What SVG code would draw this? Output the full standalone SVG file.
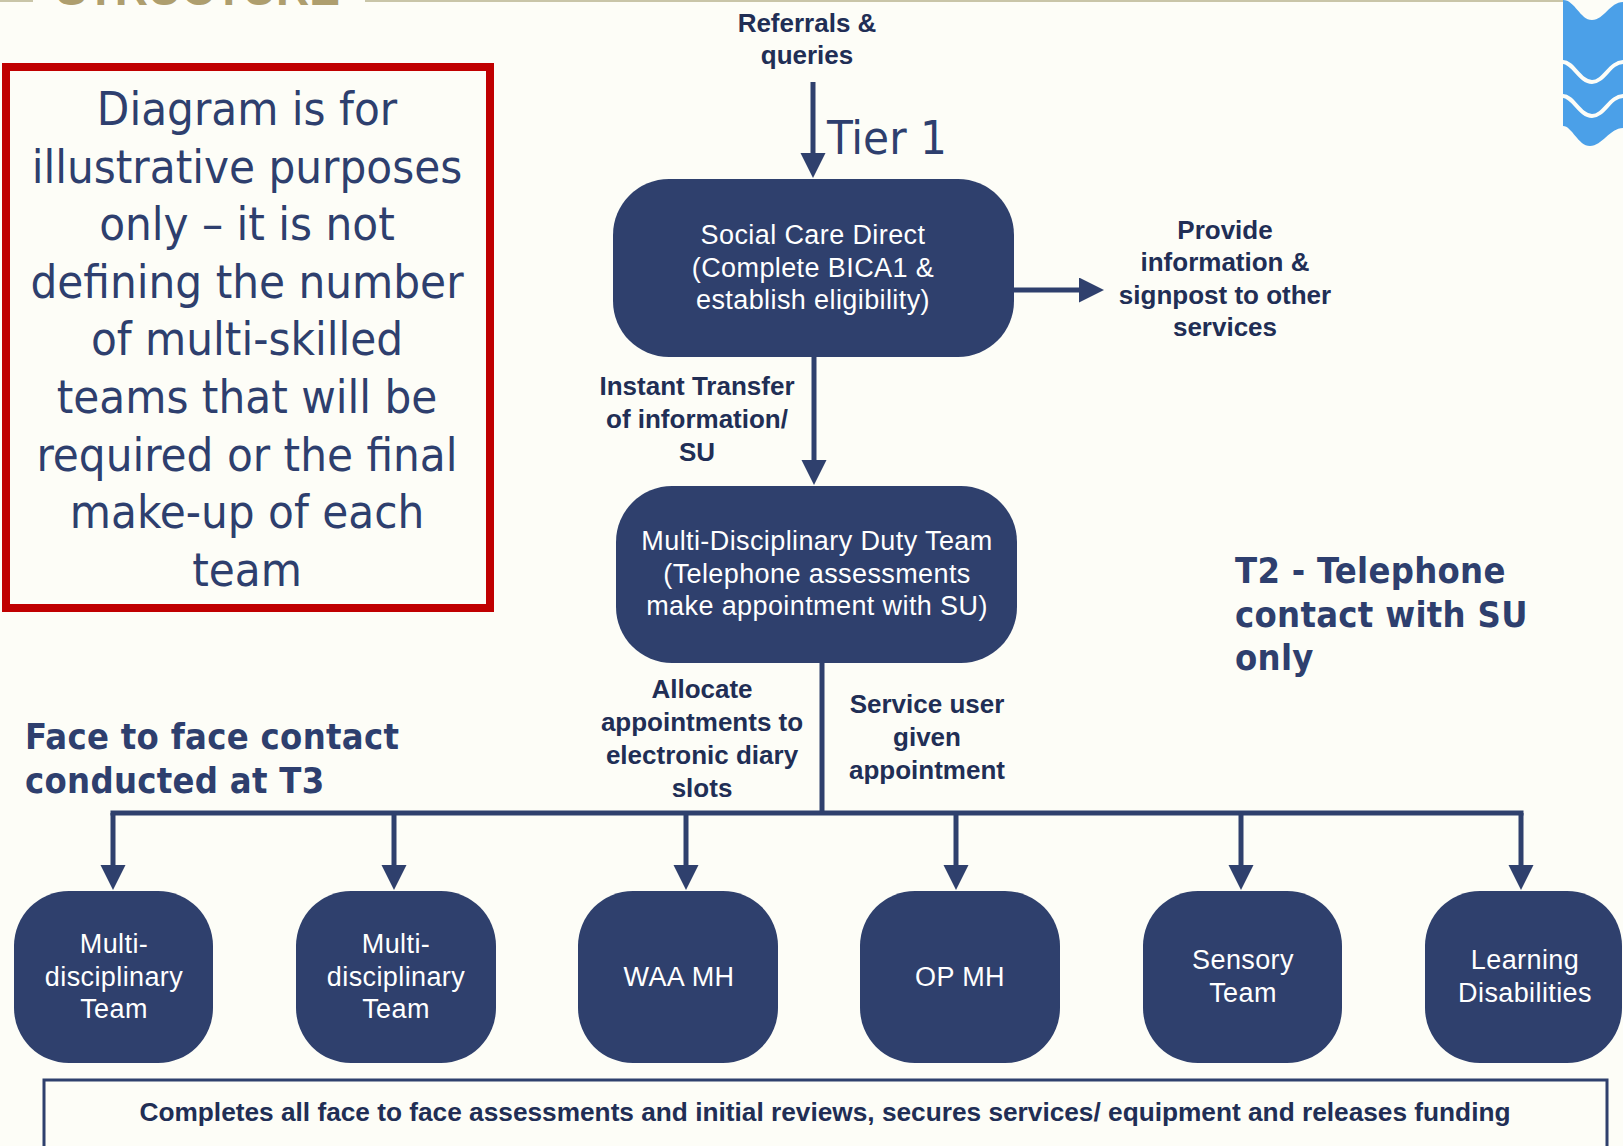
<svg xmlns="http://www.w3.org/2000/svg" width="1623" height="1146" viewBox="0 0 1623 1146">
<style>
.bg{fill:#FDFDF7}
.node{fill:#2F406D}
.nt{font-family:"Liberation Sans",Arial,sans-serif;font-size:27px;fill:#FFFFFF;text-anchor:middle;letter-spacing:0.4px}
.lbl{font-family:"Liberation Sans",Arial,sans-serif;font-size:26px;font-weight:bold;fill:#212E55;text-anchor:middle}
.big{font-family:"DejaVu Sans Condensed","DejaVu Sans",sans-serif;font-size:47px;fill:#2E3F6E;text-anchor:middle}
.hd{font-family:"DejaVu Sans Condensed","DejaVu Sans",sans-serif;font-size:36px;font-weight:bold;fill:#2E3F6E;letter-spacing:0.3px}
.con{stroke:#2F406D;stroke-width:5;fill:none}
</style>
<defs>
<marker id="arr" markerUnits="userSpaceOnUse" markerWidth="30" markerHeight="30" refX="2" refY="12.5" orient="auto">
<path d="M0,0 L25,12.5 L0,25 Z" fill="#2F406D"/>
</marker>
</defs>
<rect class="bg" x="0" y="0" width="1623" height="1146"/>
<!-- top rule and cut-off title -->
<line x1="0" y1="1" x2="33" y2="1" stroke="#C9C5A8" stroke-width="2"/>
<line x1="365" y1="1" x2="1563" y2="1" stroke="#C9C5A8" stroke-width="2"/>
<text x="56" y="5" font-family="Liberation Sans,Arial,sans-serif" font-weight="bold" font-size="46" fill="#AE9E6E" textLength="284">STRUCTURE</text>
<!-- logo -->
<g id="logo">
<path d="M1563,0 C1575,0 1580,20 1592,20 C1604,20 1610,2 1623,2 L1623,128 C1610,128 1602,146 1590,146 C1578,146 1572,126 1563,126 Z" fill="#4BA0E8"/>
<path d="M1563,62 C1573,62 1580,82 1592,82 C1604,82 1610,62 1623,62" stroke="#FDFDF7" stroke-width="4" fill="none"/>
<path d="M1563,96 C1573,96 1580,116 1592,116 C1604,116 1610,96 1623,96" stroke="#FDFDF7" stroke-width="4" fill="none"/>
</g>
<!-- disclaimer box -->
<g id="disclaimer">
<rect x="6" y="67" width="484" height="541" fill="none" stroke="#C00000" stroke-width="8"/>
<text class="big" x="247" y="125">Diagram is for</text>
<text class="big" x="247" y="182.6">illustrative purposes</text>
<text class="big" x="247" y="240.2">only – it is not</text>
<text class="big" x="247" y="297.8">defining the number</text>
<text class="big" x="247" y="355.4">of multi-skilled</text>
<text class="big" x="247" y="413">teams that will be</text>
<text class="big" x="247" y="470.6">required or the final</text>
<text class="big" x="247" y="528.2">make-up of each</text>
<text class="big" x="247" y="585.8">team</text>
</g>
<!-- connectors -->
<g id="connectors">
<line class="con" x1="813" y1="82" x2="813" y2="155" marker-end="url(#arr)"/>
<line class="con" x1="1014" y1="290" x2="1081" y2="290" marker-end="url(#arr)"/>
<line class="con" x1="814" y1="357" x2="814" y2="462" marker-end="url(#arr)"/>
<line class="con" x1="822" y1="663" x2="822" y2="813"/>
<line class="con" x1="110.5" y1="813" x2="1523.5" y2="813"/>
<line class="con" x1="113" y1="813" x2="113" y2="867" marker-end="url(#arr)"/>
<line class="con" x1="394" y1="813" x2="394" y2="867" marker-end="url(#arr)"/>
<line class="con" x1="686" y1="813" x2="686" y2="867" marker-end="url(#arr)"/>
<line class="con" x1="956" y1="813" x2="956" y2="867" marker-end="url(#arr)"/>
<line class="con" x1="1241" y1="813" x2="1241" y2="867" marker-end="url(#arr)"/>
<line class="con" x1="1521" y1="813" x2="1521" y2="867" marker-end="url(#arr)"/>
</g>
<!-- labels -->
<g id="labels">
<text class="lbl" x="807" y="32">Referrals &amp;</text>
<text class="lbl" x="807" y="64">queries</text>
<text x="827" y="154" font-family="DejaVu Sans Condensed,DejaVu Sans,sans-serif" font-size="47" fill="#2E3F6E">Tier 1</text>
<text class="lbl" x="1225" y="239">Provide</text>
<text class="lbl" x="1225" y="271">information &amp;</text>
<text class="lbl" x="1225" y="304">signpost to other</text>
<text class="lbl" x="1225" y="336">services</text>
<text class="lbl" x="697" y="395">Instant Transfer</text>
<text class="lbl" x="697" y="428">of information/</text>
<text class="lbl" x="697" y="461">SU</text>
<text class="lbl" x="702" y="698">Allocate</text>
<text class="lbl" x="702" y="731">appointments to</text>
<text class="lbl" x="702" y="764">electronic diary</text>
<text class="lbl" x="702" y="797">slots</text>
<text class="lbl" x="927" y="713">Service user</text>
<text class="lbl" x="927" y="746">given</text>
<text class="lbl" x="927" y="779">appointment</text>
<text class="hd" x="25" y="749">Face to face contact</text>
<text class="hd" x="25" y="793">conducted at T3</text>
<text class="hd" x="1235" y="583">T2 - Telephone</text>
<text class="hd" x="1235" y="627">contact with SU</text>
<text class="hd" x="1235" y="670">only</text>
</g>
<!-- nodes -->
<g id="social-care-direct">
<rect class="node" x="613" y="179" width="401" height="178" rx="56"/>
<text class="nt" x="813" y="244">Social Care Direct</text>
<text class="nt" x="813" y="276.5">(Complete BICA1 &amp;</text>
<text class="nt" x="813" y="309">establish eligibility)</text>
</g>
<g id="duty-team">
<rect class="node" x="616" y="486" width="401" height="177" rx="56"/>
<text class="nt" x="817" y="550" letter-spacing="0.2">Multi-Disciplinary Duty Team</text>
<text class="nt" x="817" y="583">(Telephone assessments</text>
<text class="nt" x="817" y="615" letter-spacing="0.2">make appointment with SU)</text>
</g>
<g id="mdt-1">
<rect class="node" x="14" y="891" width="199" height="172" rx="55"/>
<text class="nt" x="114" y="953">Multi-</text>
<text class="nt" x="114" y="985.5">disciplinary</text>
<text class="nt" x="114" y="1018">Team</text>
</g>
<g id="mdt-2">
<rect class="node" x="296" y="891" width="200" height="172" rx="55"/>
<text class="nt" x="396" y="953">Multi-</text>
<text class="nt" x="396" y="985.5">disciplinary</text>
<text class="nt" x="396" y="1018">Team</text>
</g>
<g id="waa-mh">
<rect class="node" x="578" y="891" width="200" height="172" rx="55"/>
<text class="nt" x="679" y="986">WAA MH</text>
</g>
<g id="op-mh">
<rect class="node" x="860" y="891" width="200" height="172" rx="55"/>
<text class="nt" x="960" y="986">OP MH</text>
</g>
<g id="sensory">
<rect class="node" x="1143" y="891" width="199" height="172" rx="55"/>
<text class="nt" x="1243" y="969">Sensory</text>
<text class="nt" x="1243" y="1002">Team</text>
</g>
<g id="learning-disabilities">
<rect class="node" x="1425" y="891" width="197" height="172" rx="55"/>
<text class="nt" x="1525" y="969">Learning</text>
<text class="nt" x="1525" y="1002">Disabilities</text>
</g>
<g id="footer-box">
<rect x="44" y="1080" width="1563" height="80" fill="none" stroke="#2F406D" stroke-width="3"/>
<text class="lbl" x="825" y="1121" textLength="1371" lengthAdjust="spacingAndGlyphs">Completes all face to face assessments and initial reviews, secures services/ equipment and releases funding</text>
</g>
</svg>
